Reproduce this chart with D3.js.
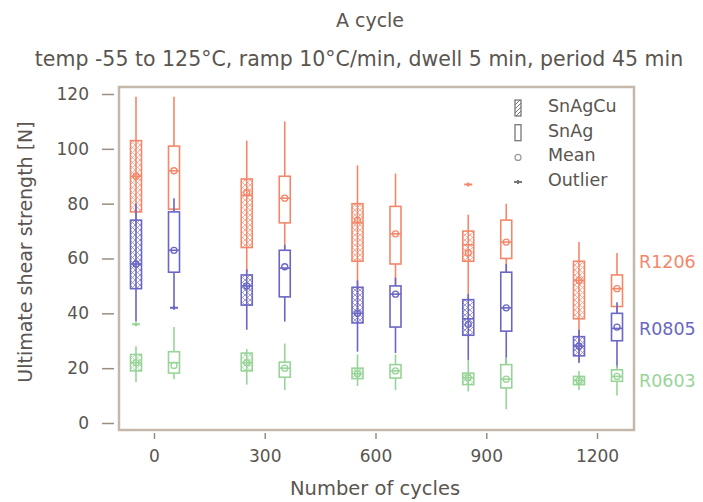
<!DOCTYPE html>
<html>
<head>
<meta charset="utf-8">
<script src="https://cdn.jsdelivr.net/npm/d3@7"></script>
<style>
  body { margin: 0; background: #fff; }
  text { font-family: "DejaVu Sans", Verdana, sans-serif; fill: #5a5550; }
</style>
</head>
<body>
<div id="chart"></div>
<script>
// cycle groups and tick labels
var cycles = [0, 300, 600, 900, 1200];
var yTicks = [0, 20, 40, 60, 80, 100, 120];
var parts = ["R1206", "R0805", "R0603"];
var partColors = ["#f4876a", "#6a66c4", "#98d498"];

// box stats per cycle: [whisker low, q1, median, q3, whisker high]
var r1206SnAgCu = [[72, 77, 90, 103, 119], [55, 64, 83, 89, 103], [40, 59, 73, 80, 94], [45, 59, 65, 70, 76], [22, 38, 52, 59, 66]];
var r1206SnAg   = [[60, 78, 92, 101, 119], [55, 73, 82, 90, 110], [50, 58, 69, 79, 91], [52, 60, 66, 74, 80], [40, 42.5, 49, 54, 62]];
var r0805SnAgCu = [[37, 49, 58, 74, 80], [34, 43, 50, 54, 56], [26, 36.5, 40, 49.5, 52], [23, 32, 38, 45, 47], [22, 24.5, 28, 31.5, 34]];
var r0805SnAg   = [[42, 55, 63, 77, 82], [37, 46, 56.5, 63, 65], [25.5, 35, 47, 50, 53], [21, 33.5, 42, 55, 58], [20, 30, 34.5, 40, 44]];
var r0603SnAgCu = [[15, 19, 22, 25, 28], [14, 19, 22, 25.5, 27], [13.5, 16.2, 18, 20, 25], [11.5, 14, 16.5, 18.2, 23], [12, 14, 15.5, 17, 19]];
var r0603SnAg   = [[16, 18.2, 22, 26, 35], [12, 16.7, 20, 22.2, 29], [12, 16.4, 19, 21.3, 25], [5, 12.8, 16, 21.3, 24], [10, 15.2, 17, 19.4, 21]];

// means per cycle
var r1206SnAgCuMean = [90, 84, 74, 62, 52];
var r1206SnAgMean   = [92, 82, 69, 66, 49];
var r0805SnAgCuMean = [58, 50, 40, 36, 28];
var r0805SnAgMean   = [63, 57, 47, 42, 35];
var r0603SnAgCuMean = [22, 22, 18, 16.5, 15.5];
var r0603SnAgMean   = [21, 20, 19, 16, 17];

// outliers: [cycle index, value]
var r1206SnAgCuOut = [[3, 87]];
var r0805SnAgOut   = [[0, 42]];
var r0603SnAgCuOut = [[0, 36]];

var width = 703, height = 502;
var frame = {left: 119, right: 634, top: 87, bottom: 430};

var svg = d3.select("#chart").append("svg")
  .attr("width", width)
  .attr("height", height);

var defs = svg.append("defs");
partColors.forEach(function(c, i) {
  var p = defs.append("pattern")
    .attr("id", "hatch" + i)
    .attr("patternUnits", "userSpaceOnUse")
    .attr("width", 5).attr("height", 5);
  p.append("path")
    .attr("d", "M0,0 L5,5 M5,0 L0,5")
    .attr("stroke", c).attr("stroke-width", 0.9).attr("opacity", 0.7);
});
defs.append("pattern")
  .attr("id", "hatchLegend")
  .attr("patternUnits", "userSpaceOnUse")
  .attr("width", 4).attr("height", 4)
  .append("path")
  .attr("d", "M0,4 L4,0")
  .attr("stroke", "#777").attr("stroke-width", 1);

var x = d3.scaleLinear().domain([0, 1200]).range([154, 597]);
var y = d3.scaleLinear().domain([0, 120]).range([423, 94]);

// title
svg.append("text")
  .attr("x", 370).attr("y", 27)
  .attr("text-anchor", "middle")
  .style("font-size", "19px")
  .text("A cycle");
svg.append("text")
  .attr("x", 359).attr("y", 66)
  .attr("text-anchor", "middle")
  .style("font-size", "20.5px")
  .text("temp -55 to 125\u00b0C, ramp 10\u00b0C/min, dwell 5 min, period 45 min");

// frame
svg.append("rect")
  .attr("x", frame.left).attr("y", frame.top)
  .attr("width", frame.right - frame.left)
  .attr("height", frame.bottom - frame.top)
  .attr("fill", "none")
  .attr("stroke", "#c4b8aa")
  .attr("stroke-width", 2.5);

// axes
var yAxis = svg.append("g")
  .attr("transform", "translate(114,0)")
  .call(d3.axisLeft(y).tickValues(yTicks).tickSize(12).tickPadding(13));
var xAxis = svg.append("g")
  .attr("transform", "translate(0,433)")
  .call(d3.axisBottom(x).tickValues(cycles).tickFormat(d3.format("d")).tickSize(6).tickPadding(11));
[yAxis, xAxis].forEach(function(a) {
  a.select(".domain").remove();
  a.selectAll(".tick line").attr("stroke", "#9a8e80").attr("stroke-width", 1.5);
  a.selectAll(".tick text")
    .style("font-size", "17px")
    .style("font-family", "DejaVu Sans, Verdana, sans-serif")
    .attr("fill", "#5a5550");
});

svg.append("text")
  .attr("x", 375).attr("y", 495)
  .attr("text-anchor", "middle")
  .style("font-size", "19.5px")
  .text("Number of cycles");
svg.append("text")
  .attr("transform", "translate(32,252) rotate(-90)")
  .attr("text-anchor", "middle")
  .style("font-size", "19px")
  .text("Ultimate shear strength [N]");

// boxes
var series = [
  {part: 0, alloy: 0, stats: r1206SnAgCu, mean: r1206SnAgCuMean, out: r1206SnAgCuOut},
  {part: 0, alloy: 1, stats: r1206SnAg, mean: r1206SnAgMean, out: []},
  {part: 1, alloy: 0, stats: r0805SnAgCu, mean: r0805SnAgCuMean, out: []},
  {part: 1, alloy: 1, stats: r0805SnAg, mean: r0805SnAgMean, out: r0805SnAgOut},
  {part: 2, alloy: 0, stats: r0603SnAgCu, mean: r0603SnAgCuMean, out: r0603SnAgCuOut},
  {part: 2, alloy: 1, stats: r0603SnAg, mean: r0603SnAgMean, out: []}
];
var offset = [-18, 20];
var boxW = 11;

series.forEach(function(s) {
  var color = partColors[s.part];
  var g = svg.append("g");
  s.stats.forEach(function(d, i) {
    var cx = x(cycles[i]) + offset[s.alloy];
    g.append("line")
      .attr("x1", cx).attr("x2", cx)
      .attr("y1", y(d[0])).attr("y2", y(d[4]))
      .attr("stroke", color).attr("stroke-width", 1.6);
    g.append("rect")
      .attr("x", cx - boxW / 2).attr("width", boxW)
      .attr("y", y(d[3])).attr("height", y(d[1]) - y(d[3]))
      .attr("fill", s.alloy === 0 ? "url(#hatch" + s.part + ")" : "#fff")
      .attr("stroke", color).attr("stroke-width", 1.6);
    g.append("line")
      .attr("x1", cx - boxW / 2).attr("x2", cx + boxW / 2)
      .attr("y1", y(d[2])).attr("y2", y(d[2]))
      .attr("stroke", color).attr("stroke-width", 1.6);
    g.append("circle")
      .attr("cx", cx).attr("cy", y(s.mean[i]))
      .attr("r", 3)
      .attr("fill", "none")
      .attr("stroke", color).attr("stroke-width", 1.3);
  });
  s.out.forEach(function(o) {
    var cx = x(cycles[o[0]]) + offset[s.alloy];
    g.append("path")
      .attr("d", "M" + (cx - 4) + "," + y(o[1]) + "h8M" + cx + "," + (y(o[1]) - 2) + "v4")
      .attr("stroke", color).attr("stroke-width", 2);
  });
});

// legend
var legend = svg.append("g");
var legendItems = ["SnAgCu", "SnAg", "Mean", "Outlier"];
legendItems.forEach(function(name, i) {
  var ly = 108 + i * 24.7;
  var row = legend.append("g");
  if (i < 2) {
    row.append("rect")
      .attr("x", 515).attr("y", ly - 8).attr("width", 6).attr("height", 16)
      .attr("fill", i === 0 ? "url(#hatchLegend)" : "#fff")
      .attr("stroke", "#777").attr("stroke-width", 1.3);
  } else if (i === 2) {
    row.append("circle")
      .attr("cx", 518).attr("cy", ly).attr("r", 3)
      .attr("fill", "none").attr("stroke", "#999").attr("stroke-width", 1.2);
  } else {
    row.append("path")
      .attr("d", "M514," + ly + "h8M518," + (ly - 2) + "v4")
      .attr("stroke", "#777").attr("stroke-width", 2);
  }
  row.append("text")
    .attr("x", 548).attr("y", ly + 4)
    .style("font-size", "17.5px")
    .text(name);
});

// part labels on the right
var partLabelY = [56.5, 32, 13];
parts.forEach(function(p, i) {
  svg.append("text")
    .attr("x", 639).attr("y", y(partLabelY[i]))
    .style("font-size", "17.5px")
    .style("fill", partColors[i])
    .text(p);
});
</script>
</body>
</html>
